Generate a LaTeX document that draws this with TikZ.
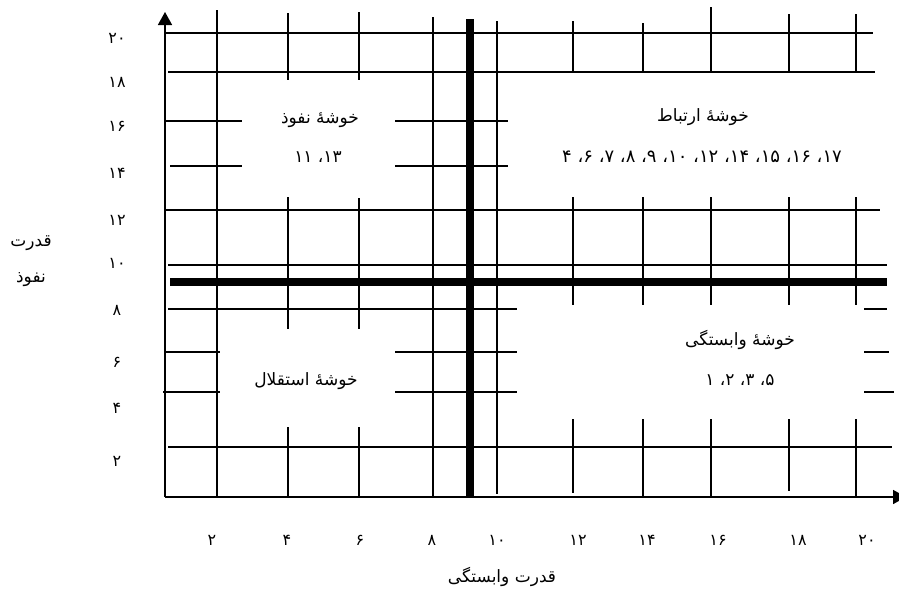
\documentclass[tikz,border=0pt]{standalone}
\usepackage{fontspec}
\usetikzlibrary{arrows.meta,positioning}
\newfontfamily\farsi[Script=Arabic]{DejaVu Sans}
\TeXXeTstate=1

\begin{document}
\begin{tikzpicture}[
  x=1pt, y=-1pt,
  gridline/.style={line width=1.6pt},
  divider/.style={line width=7.5pt},
  axis/.style={line width=1.6pt, -{Triangle[length=13pt,width=14pt]}},
  ticklabel/.style={font=\farsi\fontsize{16}{18}\selectfont, inner sep=0pt},
  cluster/.style={font=\farsi\fontsize{17}{20}\selectfont, inner sep=0pt}
]
\clip (0,0) rectangle (899,589);
\fill[white] (0,0) rectangle (899,589);

\coordinate (origin) at (165,497);
\coordinate (ytop) at (165,12);
\coordinate (xend) at (906,497);

% grid
\foreach \py/\xa/\xb in {33/165/873, 72/168/875, 121/165/242, 121/395/508,
    166/170/242, 166/395/508, 210/165/880, 265/168/887,
    309/168/517, 309/864/887, 352/165/220, 352/395/517, 352/864/889,
    392/163/220, 392/395/517, 392/864/894, 447/168/892}
  \draw[gridline] (\xa,\py) -- (\xb,\py);
\foreach \px/\ya/\yb in {217/10/497, 288/13/80, 288/197/329, 288/427/497,
    359/12/80, 359/198/329, 359/427/497, 433/17/497, 497/21/494,
    573/21/72, 573/197/305, 573/419/493, 643/23/72, 643/197/305, 643/419/497,
    711/7/72, 711/197/305, 711/419/497, 789/14/72, 789/197/305, 789/419/491,
    856/14/72, 856/197/305, 856/419/497}
  \draw[gridline] (\px,\ya) -- (\px,\yb);

\draw[divider] (470,19) -- (470,497);
\draw[divider] (170,282) -- (887,282);

\draw[axis] (origin) -- (ytop);
\draw[axis] (origin) -- (xend);

% scales
\foreach \lab/\py in {۲۰/38, ۱۸/82, ۱۶/126, ۱۴/173, ۱۲/220, ۱۰/263, ۸/310, ۶/362, ۴/408, ۲/461}
  \node[ticklabel] (ylab\py) at (117,\py) {\lab};
\foreach \lab/\px in {۲/212, ۴/287, ۶/360, ۸/432, ۱۰/497, ۱۲/578, ۱۴/647, ۱۶/718, ۱۸/798, ۲۰/867}
  \node[ticklabel] (xlab\px) at (\px,540) {\lab};

\node[cluster] (ytitleA) at (31,243) {\beginR قدرت\endR};
\node[cluster] (ytitleB) at (31,280) {\beginR نفوذ\endR};
\node[cluster] (xtitle) at (502,577) {\beginR قدرت وابستگی\endR};

% clusters
\node[cluster] (influence) at (320,120) {\beginR خوشهٔ نفوذ\endR};
\node[cluster] (influenceList) at (318,157) {\beginR ۱۳، ۱۱\endR};
\node[cluster] (linkage) at (703,117) {\beginR خوشهٔ ارتباط\endR};
\node[cluster, font=\farsi\fontsize{18}{20}\selectfont] (linkageList) at (702,157) {\beginR ۱۷، ۱۶، ۱۵، ۱۴، ۱۲، ۱۰، ۹، ۸، ۷، ۶، ۴\endR};
\node[cluster] (autonomous) at (306,381) {\beginR خوشهٔ استقلال\endR};
\node[cluster] (dependent) at (740,340) {\beginR خوشهٔ وابستگی\endR};
\node[cluster] (dependentList) at (740,380) {\beginR ۵، ۳، ۲، ۱\endR};
\end{tikzpicture}
\end{document}
